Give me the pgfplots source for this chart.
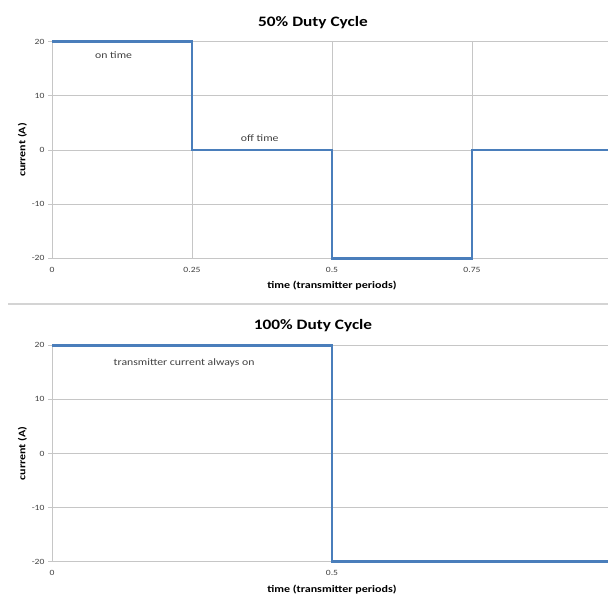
\documentclass[border=0pt]{standalone}
\usepackage{fontspec}
\setmainfont{Carlito}[FakeStretch=1.2]
\usepackage{pgfplots}
\pgfplotsset{compat=1.18}

\definecolor{wave}{HTML}{4A7EBB}
\definecolor{gridc}{HTML}{C6C6C6}
\definecolor{sepc}{HTML}{D4D4D4}
\definecolor{txt}{HTML}{404040}

\tikzset{
  annot/.style={font=\fontsize{9.8}{11}\selectfont, text=txt},
  current/.style={wave, line width=2.6pt, line join=miter, mark=none},
}

\pgfplotsset{
  duty/.style={
    scale only axis,
    width=556pt, height=216.5pt,
    xmin=0, xmax=0.9929,
    ymin=-20, ymax=20,
    clip=false,
    ytick={-20,-10,0,10,20},
    axis line style={draw=none},
    xmajorgrids, ymajorgrids,
    grid style={gridc, line width=0.9pt},
    tick align=outside,
    major tick length=3.5pt,
    xtick style={draw=none},
    ytick style={gridc, line width=0.9pt},
    /pgf/number format/assume math mode=true,
    ticklabel style={font=\fontsize{8}{9}\selectfont, text=txt},
    yticklabel style={xshift=-0.5pt},
    xticklabel style={yshift=-2pt},
    xlabel={\textbf{time (transmitter periods)}},
    ylabel={\textbf{current (A)}},
    label style={font=\fontsize{8}{9}\selectfont, text=black},
    every axis x label/.style={at={(axis description cs:0.5036,-0.128)}, anchor=center},
    every axis y label/.style={at={(axis description cs:-0.053,0.5)}, rotate=90, anchor=center},
  }
}

\begin{document}
\begin{tikzpicture}[x=1pt, y=1pt]
  \useasboundingbox (0,0) rectangle (608,595);

  % 50% duty cycle waveform
  \begin{axis}[duty, at={(52pt,336.7pt)}, anchor=south west,
      xtick={0,0.25,0.5,0.75},
      xticklabels={0,0.25,0.5,0.75}]
    \addplot[current] coordinates {(0,20) (0.25,20) (0.25,0) (0.5,0) (0.5,-20)
                          (0.75,-20) (0.75,0) (0.9929,0)};
    \node[annot] at (axis cs:0.110,17.5) {on time};
    \node[annot] at (axis cs:0.371,2.2) {off time};
  \end{axis}
  \node[font=\fontsize{14.4}{16}\selectfont\bfseries] at (313,572) {50\% Duty Cycle};

  % divider between the two charts
  \draw[sepc, line width=2pt] (8,290.5) -- (608,290.5);

  % 100% duty cycle waveform
  \begin{axis}[duty, at={(52pt,33.3pt)}, anchor=south west,
      xtick={0,0.5},
      xticklabels={0,0.5}]
    \addplot[current] coordinates {(0,20) (0.5,20) (0.5,-20) (0.9929,-20)};
    \node[annot] at (axis cs:0.236,16.7) {transmitter current always on};
  \end{axis}
  \node[font=\fontsize{14.4}{16}\selectfont\bfseries] at (313,269) {100\% Duty Cycle};
\end{tikzpicture}
\end{document}
